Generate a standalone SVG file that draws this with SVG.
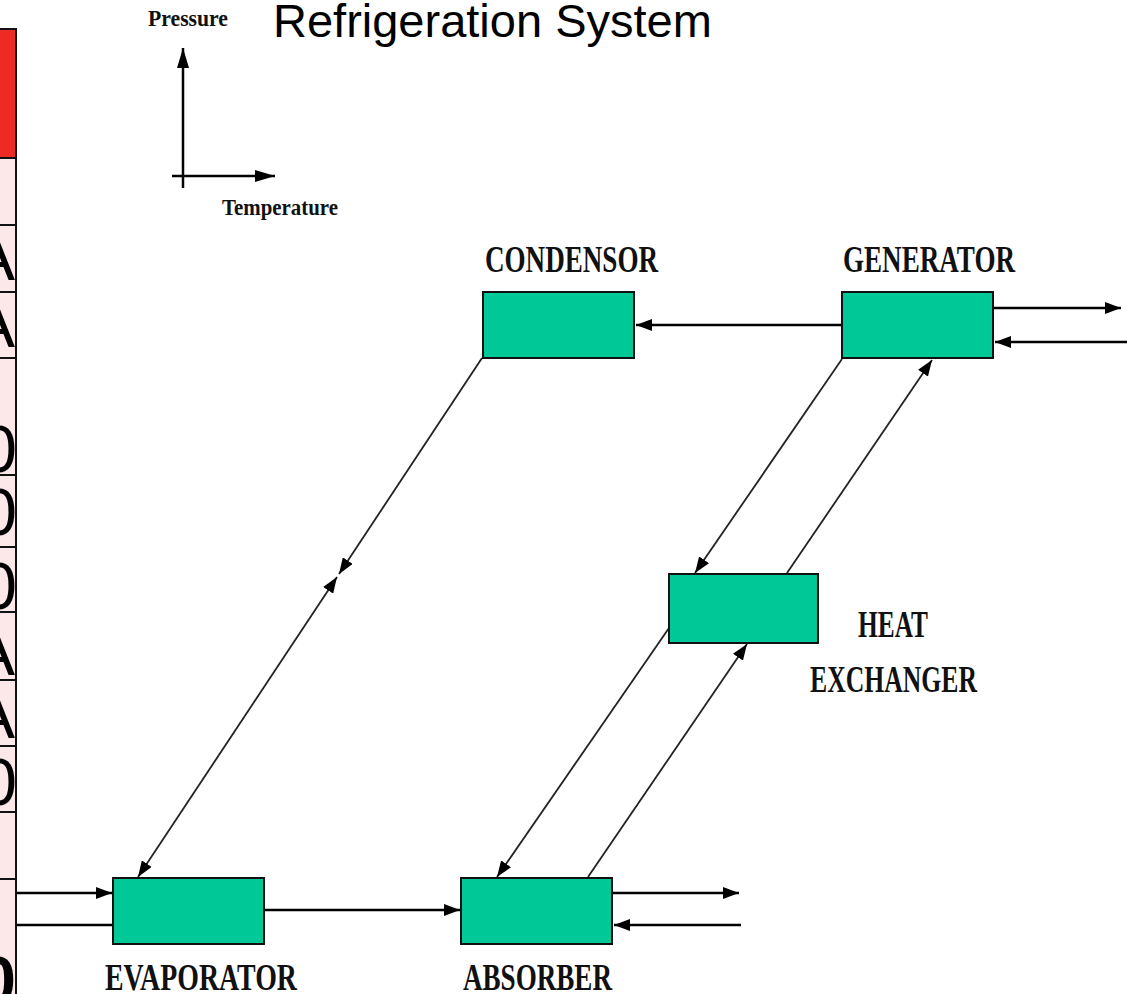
<svg xmlns="http://www.w3.org/2000/svg" width="1127" height="994" viewBox="0 0 1127 994">
<style>
.tbl{fill:#fde8e9}
.hdr{fill:#ee2a24}
.rule{stroke:#111;stroke-width:2}
.cell{font-family:"Liberation Sans",Arial,sans-serif;font-size:66px;fill:#000}
.box{fill:#00c997;stroke:#111;stroke-width:2}
.lbl{font-family:"Liberation Serif","Times New Roman",serif;font-size:38px;font-weight:bold;fill:#111}
.axl{font-family:"Liberation Serif","Times New Roman",serif;font-size:23px;font-weight:bold;fill:#111}
.h{stroke:#000;stroke-width:2.5;fill:none}
.d{stroke:#222;stroke-width:1.8;fill:none}
.title{font-family:"Liberation Sans",Arial,sans-serif;font-size:47px;fill:#000}
</style>
<defs>
<marker id="ah" viewBox="0 0 16 12" refX="16" refY="6" markerWidth="16" markerHeight="12" markerUnits="userSpaceOnUse" orient="auto-start-reverse">
<path d="M0,0 L16,6 L0,12 Z" fill="#000"/>
</marker>
<marker id="ax" viewBox="0 0 20 12" refX="20" refY="6" markerWidth="20" markerHeight="12" markerUnits="userSpaceOnUse" orient="auto">
<path d="M0,0 L20,6 L0,12 Z" fill="#000"/>
</marker>
</defs>
<rect width="1127" height="994" fill="#fff"/>

<g id="table">
<rect class="hdr" x="-2" y="29" width="18" height="129"/>
<rect class="tbl" x="-2" y="158" width="18" height="836"/>
<line class="rule" x1="0" y1="29" x2="17" y2="29"/>
<line class="rule" x1="0" y1="158" x2="17" y2="158"/>
<line class="rule" x1="0" y1="225" x2="17" y2="225"/>
<line class="rule" x1="0" y1="292" x2="17" y2="292"/>
<line class="rule" x1="0" y1="358" x2="17" y2="358"/>
<line class="rule" x1="0" y1="475" x2="17" y2="475"/>
<line class="rule" x1="0" y1="547" x2="17" y2="547"/>
<line class="rule" x1="0" y1="612" x2="17" y2="612"/>
<line class="rule" x1="0" y1="680" x2="17" y2="680"/>
<line class="rule" x1="0" y1="746" x2="17" y2="746"/>
<line class="rule" x1="0" y1="812" x2="17" y2="812"/>
<line class="rule" x1="0" y1="879" x2="17" y2="879"/>
<line class="rule" x1="16" y1="28" x2="16" y2="994"/>
<text class="cell" x="15" y="280" text-anchor="end">A</text>
<text class="cell" x="15" y="347" text-anchor="end">A</text>
<text class="cell" x="17" y="472" text-anchor="end">0</text>
<text class="cell" x="17" y="535" text-anchor="end">0</text>
<text class="cell" x="17" y="609" text-anchor="end">0</text>
<text class="cell" x="15" y="675" text-anchor="end">A</text>
<text class="cell" x="15" y="738" text-anchor="end">A</text>
<text class="cell" x="17" y="805" text-anchor="end">0</text>
<text class="cell" x="16" y="1003" text-anchor="end" font-weight="bold">0</text>
</g>

<text class="title" x="273" y="37">Refrigeration System</text>

<g id="axes">
<line class="h" x1="183" y1="188" x2="183" y2="48" marker-end="url(#ax)" stroke-width="2"/>
<line class="h" x1="172" y1="176" x2="275" y2="176" marker-end="url(#ax)" stroke-width="2.5"/>
<text class="axl" x="148" y="26" textLength="80" lengthAdjust="spacingAndGlyphs">Pressure</text>
<text class="axl" x="222" y="215" textLength="116" lengthAdjust="spacingAndGlyphs">Temperature</text>
</g>

<g id="connectors">
<line class="h" x1="842" y1="325" x2="636" y2="325" marker-end="url(#ah)"/>
<line class="h" x1="993" y1="308" x2="1121" y2="308" marker-end="url(#ah)"/>
<line class="h" x1="1127" y1="342" x2="995" y2="342" marker-end="url(#ah)"/>
<line class="d" x1="482" y1="358" x2="339" y2="574" marker-end="url(#ah)"/>
<line class="d" x1="337" y1="577" x2="138" y2="877" marker-start="url(#ah)" marker-end="url(#ah)"/>
<line class="d" x1="842" y1="359" x2="695" y2="573" marker-end="url(#ah)"/>
<line class="d" x1="787" y1="573" x2="932" y2="360" marker-end="url(#ah)"/>
<line class="d" x1="669" y1="628" x2="497" y2="877" marker-end="url(#ah)"/>
<line class="d" x1="588" y1="877" x2="747" y2="644" marker-end="url(#ah)"/>
<line class="h" x1="264" y1="910" x2="460" y2="910" marker-end="url(#ah)"/>
<line class="h" x1="17" y1="893" x2="112" y2="893" marker-end="url(#ah)"/>
<line class="h" x1="17" y1="925" x2="113" y2="925"/>
<line class="h" x1="612" y1="893" x2="739" y2="893" marker-end="url(#ah)"/>
<line class="h" x1="741" y1="925" x2="614" y2="925" marker-end="url(#ah)"/>
</g>

<g id="condensor">
<rect class="box" x="483" y="292" width="151" height="66"/>
<text class="lbl" x="485" y="272" textLength="173" lengthAdjust="spacingAndGlyphs">CONDENSOR</text>
</g>
<g id="generator">
<rect class="box" x="842" y="292" width="151" height="66"/>
<text class="lbl" x="843" y="272" textLength="172" lengthAdjust="spacingAndGlyphs">GENERATOR</text>
</g>
<g id="heat-exchanger">
<rect class="box" x="669" y="574" width="149" height="69"/>
<text class="lbl" x="858" y="637" textLength="70" lengthAdjust="spacingAndGlyphs">HEAT</text>
<text class="lbl" x="810" y="692" textLength="167" lengthAdjust="spacingAndGlyphs">EXCHANGER</text>
</g>
<g id="evaporator">
<rect class="box" x="113" y="878" width="151" height="66"/>
<text class="lbl" x="105" y="990" textLength="192" lengthAdjust="spacingAndGlyphs">EVAPORATOR</text>
</g>
<g id="absorber">
<rect class="box" x="461" y="878" width="151" height="66"/>
<text class="lbl" x="463" y="990" textLength="149" lengthAdjust="spacingAndGlyphs">ABSORBER</text>
</g>
</svg>
